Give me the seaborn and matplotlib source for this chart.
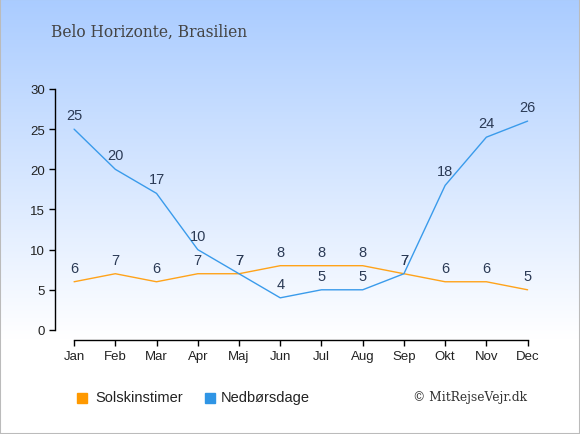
import numpy as np
import pandas as pd
import matplotlib
matplotlib.use("Agg")
import matplotlib.pyplot as plt
import seaborn as sns
from matplotlib.patches import Rectangle

months = ["Jan", "Feb", "Mar", "Apr", "Maj", "Jun", "Jul", "Aug", "Sep", "Okt", "Nov", "Dec"]
sun_hours = [6, 7, 6, 7, 7, 8, 8, 8, 7, 6, 6, 5]
rain_days = [25, 20, 17, 10, 7, 4, 5, 5, 7, 18, 24, 26]
title = "Belo Horizonte, Brasilien"
sun_color = "#FFA31A"
rain_color = "#3A9BEB"
label_color = "#2B3A55"

sns.set_style("white")
plt.rcParams["font.family"] = ["Liberation Sans", "DejaVu Sans"]

df = pd.DataFrame({"idx": range(len(months)), "month": months,
                   "sun": sun_hours, "rain": rain_days})

fig = plt.figure(figsize=(5.8, 4.35), dpi=100)

# background gradient
bg = fig.add_axes([0, 0, 1, 1], zorder=-10)
top = np.array([170, 204, 255]) / 255
grad_h = np.linspace(0, 1, 200)
t = np.clip(grad_h / 0.78, 0, 1)[:, None]
cols = top * (1 - t) + np.ones(3) * t
bg.imshow(cols[:, None, :], aspect="auto", extent=[0, 1, 0, 1])
bg.set_axis_off()
fig.patches.append(Rectangle((0, 0), 1, 1, transform=fig.transFigure,
                             fill=False, edgecolor="#BBBBBB", lw=1.5))

ax = fig.add_axes([0.0948, 0.2161, 0.8362, 0.5885])
ax.patch.set_alpha(0)

sns.lineplot(data=df, x="idx", y="sun", ax=ax, color=sun_color, lw=1)
sns.lineplot(data=df, x="idx", y="rain", ax=ax, color=rain_color, lw=1)

for i, row in df.iterrows():
    ax.annotate(str(row["sun"]), (row["idx"], row["sun"]), xytext=(0, 14),
                textcoords="offset pixels", ha="center", va="center",
                fontsize=10.5, color=label_color)
    ax.annotate(str(row["rain"]), (row["idx"], row["rain"]), xytext=(0, 14),
                textcoords="offset pixels", ha="center", va="center",
                fontsize=10.5, color=label_color)

ax.set_xlim(-0.463, 11.3)
ax.set_ylim(-1.25, 30.62)
ax.set_xticks(df["idx"])
ax.set_xticklabels(months)
ax.set_yticks([0, 5, 10, 15, 20, 25, 30])
ax.set_xlabel("")
ax.set_ylabel("")
for s in ["top", "right"]:
    ax.spines[s].set_visible(False)
ax.spines["left"].set_bounds(0, 30)
ax.spines["bottom"].set_bounds(0, 11)
for s in ["left", "bottom"]:
    ax.spines[s].set_color("black")
    ax.spines[s].set_linewidth(1)
ax.tick_params(axis="both", which="both", direction="out", length=4, width=1,
               color="black", labelsize=9.5, labelcolor="#222222", pad=3,
               left=True, bottom=True)

fig.text(51 / 580, 1 - 32 / 435, title, fontsize=11.2, color="#444444",
         family=["DejaVu Serif"], va="center", ha="left")

# legend
fig.patches.append(Rectangle((77 / 580, 1 - 404 / 435), 10 / 580, 10 / 435,
                             transform=fig.transFigure, color="#FF9900"))
fig.text(95 / 580, 1 - 398 / 435, "Solskinstimer", fontsize=10.5, color="#222222",
         va="center", ha="left")
fig.patches.append(Rectangle((205 / 580, 1 - 404 / 435), 10 / 580, 10 / 435,
                             transform=fig.transFigure, color="#2F95E5"))
fig.text(221 / 580, 1 - 398 / 435, "Nedbørsdage", fontsize=10.5, color="#222222",
         va="center", ha="left")
fig.text(527 / 580, 1 - 398 / 435, "© MitRejseVejr.dk", fontsize=8.8,
         color="#333333", family=["DejaVu Serif"], va="center", ha="right")

fig.savefig("out.png", dpi=100)
